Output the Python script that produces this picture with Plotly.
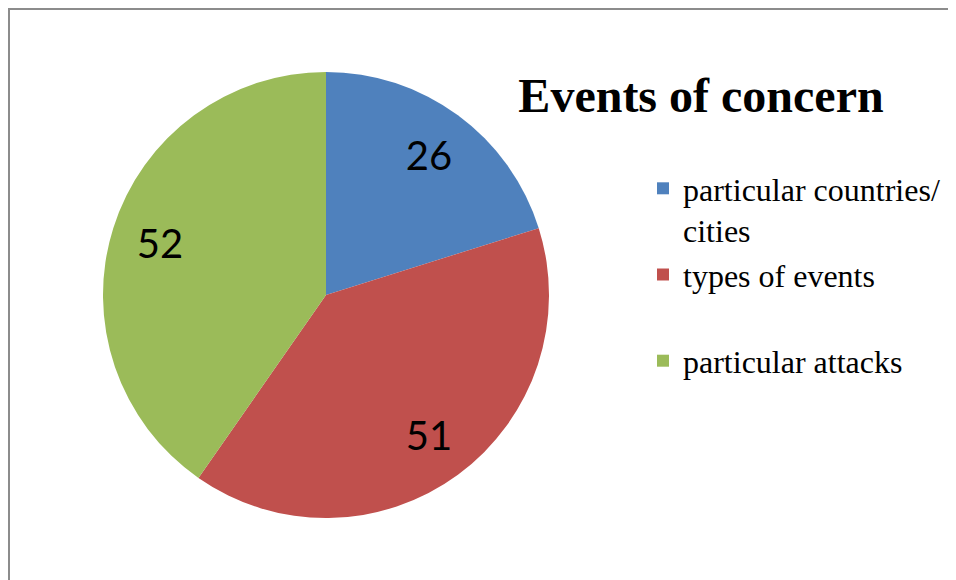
"""Pie chart: events of concern."""

import plotly.graph_objects as go

categories = ["particular countries/<br>cities", "types of events<br> ", "particular attacks"]
counts = [26, 51, 52]
slice_colors = ["#4F81BD", "#C0504D", "#9BBB59"]

W, H = 956, 580
OFF = 8  # page body margin shifts the plot by 8px

pie_domain = {
    "x": [(103 - OFF) / W, (549 - OFF) / W],
    "y": [1 - (518 - OFF) / H, 1 - (72 - OFF) / H],
}

fig = go.Figure()
fig.add_trace(
    go.Pie(
        labels=categories,
        values=counts,
        sort=False,
        direction="clockwise",
        rotation=0,
        marker={"colors": slice_colors, "line": {"width": 0}},
        textinfo="none",
        domain=pie_domain,
    )
)
# transparent ring on top carries the value labels further out
fig.add_trace(
    go.Pie(
        labels=categories,
        values=counts,
        sort=False,
        direction="clockwise",
        rotation=0,
        hole=0.56,
        marker={"colors": ["rgba(0,0,0,0)"] * 3, "line": {"width": 0}},
        textinfo="value",
        textposition="inside",
        insidetextorientation="horizontal",
        textfont={"family": "Lato", "size": 40, "color": "black"},
        showlegend=False,
        hoverinfo="skip",
        domain=pie_domain,
    )
)

fig.update_layout(
    width=W,
    height=H,
    margin={"l": 0, "r": 0, "t": 0, "b": 0},
    paper_bgcolor="white",
    font={"family": "Liberation Serif", "color": "black"},
    title={
        "text": "<b>Events of concern</b>",
        "font": {"family": "Liberation Serif", "size": 48, "color": "black"},
        "x": (701 - OFF) / W,
        "xanchor": "center",
        "y": 1 - (95 - OFF) / H,
        "yanchor": "middle",
    },
    legend={
        "x": (643 - OFF) / W,
        "xanchor": "left",
        "y": 1 - (161 - OFF) / H,
        "yanchor": "top",
        "valign": "top",
        "font": {"family": "Liberation Serif", "size": 32, "color": "black"},
        "bgcolor": "rgba(0,0,0,0)",
    },
    shapes=[
        {
            "type": "rect",
            "xref": "paper",
            "yref": "paper",
            "x0": 1 / W,
            "x1": 1.05,
            "y0": -0.05,
            "y1": 1 - 1 / H,
            "line": {"color": "#8c8c8c", "width": 2},
            "fillcolor": "rgba(0,0,0,0)",
        }
    ],
)

fig.write_html("out.html")
